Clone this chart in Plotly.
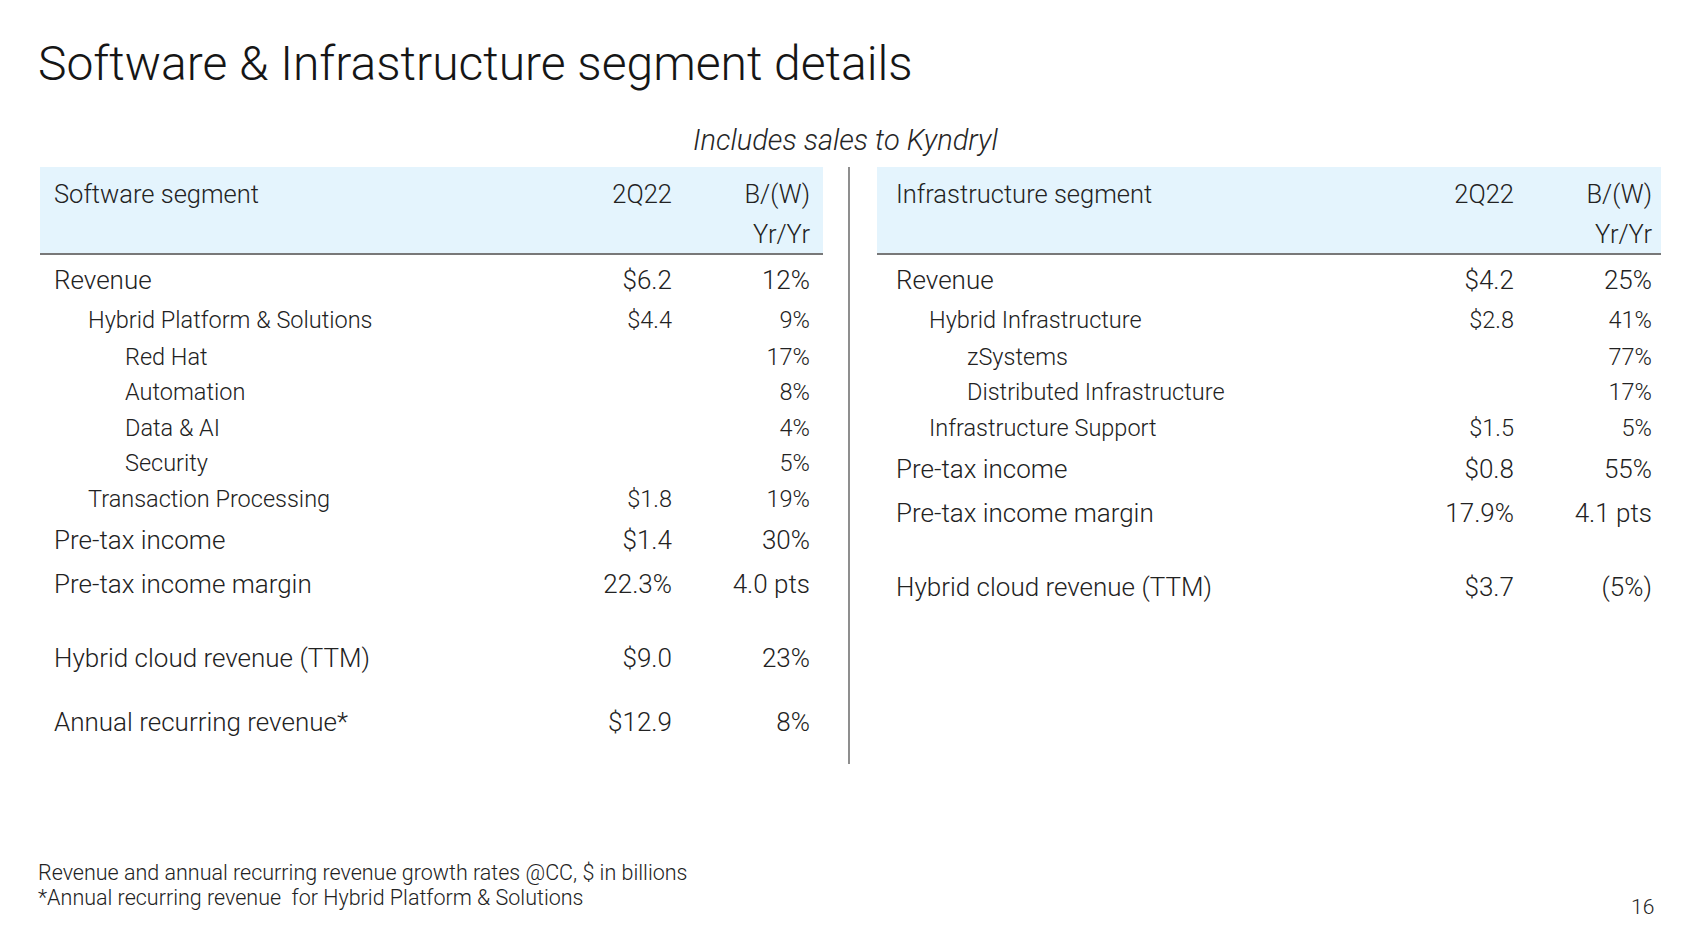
import plotly.graph_objects as go

# ---------------- data ----------------
title = "Software & Infrastructure segment details"
subtitle = "Includes sales to Kyndryl"
col_period = "2Q22"
col_change = ["B/(W)", "Yr/Yr"]

sw_header = "Software segment"
sw_labels = ["Revenue", "Hybrid Platform & Solutions", "Red Hat", "Automation", "Data & AI",
             "Security", "Transaction Processing", "Pre-tax income", "Pre-tax income margin",
             "Hybrid cloud revenue (TTM)", "Annual recurring revenue*"]
sw_level = [0, 1, 2, 2, 2, 2, 1, 0, 0, 0, 0]
sw_group = [0, 0, 0, 0, 0, 0, 0, 0, 0, 1, 2]
sw_value = ["$6.2", "$4.4", "", "", "", "", "$1.8", "$1.4", "22.3%", "$9.0", "$12.9"]
sw_change = ["12%", "9%", "17%", "8%", "4%", "5%", "19%", "30%", "4.0 pts", "23%", "8%"]

in_header = "Infrastructure segment"
in_labels = ["Revenue", "Hybrid Infrastructure", "zSystems", "Distributed Infrastructure",
             "Infrastructure Support", "Pre-tax income", "Pre-tax income margin",
             "Hybrid cloud revenue (TTM)"]
in_level = [0, 1, 2, 2, 1, 0, 0, 0]
in_group = [0, 0, 0, 0, 0, 0, 0, 1]
in_value = ["$4.2", "$2.8", "", "", "$1.5", "$0.8", "17.9%", "$3.7"]
in_change = ["25%", "41%", "77%", "17%", "5%", "55%", "4.1 pts", "(5%)"]

footnotes = ["Revenue and annual recurring revenue growth rates @CC, $ in billions",
             "*Annual recurring revenue  for Hybrid Platform & Solutions"]
page_number = "16"

# ---------------- style / layout ----------------
W, H = 1694, 949
OFF = 8                          # compensates the page's default body margin
FONT = "Roboto, 'Noto Sans', sans-serif"
TXT = "#222222"
BAND = "#e4f4fd"
RULE = "#787878"
ROW_H = [44, 37, 35.5]          # row pitch by indent level
GROUP_GAP = [0, 30, 20]         # extra space before each group
FONT_SIZE = [26, 23.5, 23.5]    # by level
HEAD_SIZE = 25.5
FIRST_ROW_Y = 282

tables = [
    dict(header=sw_header, labels=sw_labels, level=sw_level, group=sw_group,
         value=sw_value, change=sw_change,
         x0=40, x1=823, indent=[54, 88, 125], val_r=672, chg_r=810),
    dict(header=in_header, labels=in_labels, level=in_level, group=in_group,
         value=in_value, change=in_change,
         x0=877, x1=1661, indent=[896, 929, 967], val_r=1514, chg_r=1652),
]

BAND_Y0, BAND_Y1 = 167, 254
HEAD_Y1, HEAD_Y2 = 197, 237


def row_positions(level, group):
    ys = [FIRST_ROW_Y]
    for i in range(1, len(level)):
        step = (ROW_H[level[i - 1]] + ROW_H[level[i]]) / 2
        if group[i] != group[i - 1]:
            step += GROUP_GAP[group[i]]
        ys.append(ys[-1] + step)
    return ys


def tfont(size):
    return dict(family=FONT, size=size, color=TXT, weight=300)


fig = go.Figure()
shapes = []

for t in tables:
    ys = row_positions(t["level"], t["group"])
    shapes.append(dict(type="rect", xref="x", yref="y", x0=t["x0"], x1=t["x1"],
                       y0=BAND_Y0, y1=BAND_Y1, fillcolor=BAND, line=dict(width=0), layer="below"))
    shapes.append(dict(type="line", xref="x", yref="y", x0=t["x0"], x1=t["x1"],
                       y0=BAND_Y1, y1=BAND_Y1, line=dict(color=RULE, width=2)))
    fig.add_trace(go.Scatter(x=[t["indent"][0]], y=[HEAD_Y1], text=[t["header"]], mode="text",
                             textposition="middle right", textfont=tfont(HEAD_SIZE),
                             hoverinfo="skip", showlegend=False))
    fig.add_trace(go.Scatter(x=[t["val_r"], t["chg_r"], t["chg_r"]], y=[HEAD_Y1, HEAD_Y1, HEAD_Y2],
                             text=[col_period] + col_change, mode="text",
                             textposition="middle left", textfont=tfont(HEAD_SIZE),
                             hoverinfo="skip", showlegend=False))
    lx = [t["indent"][lv] for lv in t["level"]]
    sizes = [FONT_SIZE[lv] for lv in t["level"]]
    fig.add_trace(go.Scatter(x=lx, y=ys, text=t["labels"], mode="text",
                             textposition="middle right", textfont=tfont(sizes),
                             hoverinfo="skip", showlegend=False))
    fig.add_trace(go.Scatter(x=[t["val_r"]] * len(ys), y=ys, text=t["value"], mode="text",
                             textposition="middle left", textfont=tfont(sizes),
                             hoverinfo="skip", showlegend=False))
    fig.add_trace(go.Scatter(x=[t["chg_r"]] * len(ys), y=ys, text=t["change"], mode="text",
                             textposition="middle left", textfont=tfont(sizes),
                             hoverinfo="skip", showlegend=False))

shapes.append(dict(type="line", xref="x", yref="y", x0=849, x1=849, y0=167, y1=764,
                   line=dict(color="#444444", width=1.2)))

annotations = [
    dict(text=title, x=36, y=63, xref="x", yref="y", xanchor="left", yanchor="middle",
         showarrow=False, font=dict(family=FONT, size=48, color="#161616", weight=300)),
    dict(text="<i>" + subtitle + "</i>", x=845, y=140, xref="x", yref="y", xanchor="center",
         yanchor="middle", showarrow=False, font=dict(family=FONT, size=29, color="#262626", weight=300)),
    dict(text=footnotes[0], x=36, y=872, xref="x", yref="y", xanchor="left", yanchor="middle",
         showarrow=False, font=tfont(21.5)),
    dict(text=footnotes[1], x=36, y=897, xref="x", yref="y", xanchor="left", yanchor="middle",
         showarrow=False, font=tfont(21.5)),
    dict(text=page_number, x=1656, y=907, xref="x", yref="y", xanchor="right", yanchor="middle",
         showarrow=False, font=tfont(21)),
]

fig.update_layout(
    width=W, height=H,
    margin=dict(l=0, r=0, t=0, b=0),
    paper_bgcolor="white", plot_bgcolor="white",
    xaxis=dict(range=[OFF, W + OFF], visible=False, fixedrange=True),
    yaxis=dict(range=[H + OFF, OFF], visible=False, fixedrange=True),
    shapes=shapes, annotations=annotations,
    showlegend=False,
)

fig.write_html("out.html")
